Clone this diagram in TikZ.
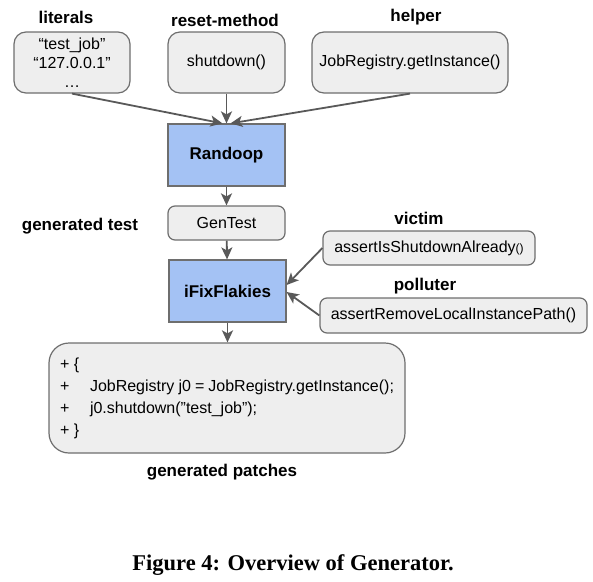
\documentclass[tikz,border=0pt]{standalone}
\usepackage{fontspec}
\setmainfont{Liberation Sans}
\newfontfamily\captionfont{Liberation Serif}
\usetikzlibrary{arrows.meta, positioning, calc}
\definecolor{box-gray}{HTML}{EEEEEE}
\definecolor{line-gray}{HTML}{6E6E6E}
\definecolor{arrow-gray}{HTML}{595959}
\definecolor{tool-blue}{HTML}{A4C2F4}
\newcommand{\plusmark}{\makebox[30pt][l]{+}}
\tikzset{
	every node/.style={
		align=center,
	},
	input-node/.style={
		rectangle,
		rounded corners=12pt,
		draw=line-gray, line width=1.2pt,
		fill=box-gray,
		font=\fontsize{16}{19}\selectfont,
		inner sep=0pt,
		anchor=center
	},
	tool-node/.style={
		rectangle,
		draw=line-gray, line width=1.2pt,
		fill=tool-blue,
		font=\fontsize{17}{20}\selectfont\bfseries,
		minimum width=117pt,
		minimum height=62pt,
		anchor=center
	},
	label-text/.style={font=\fontsize{17}{20}\selectfont\bfseries},
	edge-style/.style={line width=1.8pt, draw=arrow-gray, -{Stealth[length=12pt,width=11pt,inset=3pt]}},
}

\begin{document}
\begin{tikzpicture}[x=1pt, y=-1pt]
	\useasboundingbox (0,0) rectangle (593,581);
	% inputs
	\node (lit) [input-node, minimum width=116pt, minimum height=61pt] at (72,62.5) {“test\_job”\\“127.0.0.1”\\…};
	\node (reset) [input-node, minimum width=117pt, minimum height=61pt] at (226.5,62.5) {shutdown()};
	\node (help) [input-node, minimum width=196pt, minimum height=61pt] at (410,62.5) {JobRegistry.getInstance()};
	\node [label-text] at (66,17) {literals};
	\node [label-text] at (225,20) {reset-method};
	\node [label-text] at (416,17) {helper};
	% tools
	\node (rand) [tool-node] at (226.5,155) {Randoop};
	\node (gen) [input-node, rounded corners=7pt, minimum width=117pt, minimum height=34pt] at (226.5,223) {GenTest};
	\node [label-text] at (80,226) {generated test};
	\node (ifix) [tool-node] at (227.5,291) {iFixFlakies};
	% victim and polluter
	\node (vic) [input-node, rounded corners=7pt, minimum width=212pt, minimum height=34pt] at (429,248) {assertIsShutdownAlready{\fontsize{12}{14}\selectfont()}};
	\node (pol) [input-node, rounded corners=7pt, minimum width=267pt, minimum height=35pt] at (453.5,315.5) {assertRemoveLocalInstancePath()};
	\node [label-text] at (419,218) {victim};
	\node [label-text] at (425,286) {polluter};
	% patches
	\node (patch) [input-node, rounded corners=20pt, minimum width=356pt, minimum height=110pt, text width=334pt, align=flush left, font=\fontsize{16}{22}\selectfont] at (227,398) {+ \{\\\plusmark JobRegistry j0 = JobRegistry.getInstance();\\\plusmark j0.shutdown(\char34 test\_job\char34);\\+ \}};
	\node [label-text] at (222,472) {generated patches};
	% edges
	\draw [edge-style] (lit.south) -- ([xshift=-4pt]rand.north);
	\draw [edge-style] (reset.south) -- (rand.north);
	\draw [edge-style] (help.south) -- ([xshift=4pt]rand.north);
	\draw [edge-style] (rand) -- (gen);
	\draw [edge-style] (gen) -- (ifix);
	\draw [edge-style] (vic.west) -- ([yshift=6pt]ifix.east);
	\draw [edge-style] (pol.west) -- ([yshift=-1pt]ifix.east);
	\draw [edge-style] (ifix.south) -- (ifix.south |- patch.north);
	% caption
	\node (cap) at (293,565) {\captionfont\bfseries\fontsize{22.5}{26}\selectfont Figure 4: Overview of Generator.};
\end{tikzpicture}
\end{document}
